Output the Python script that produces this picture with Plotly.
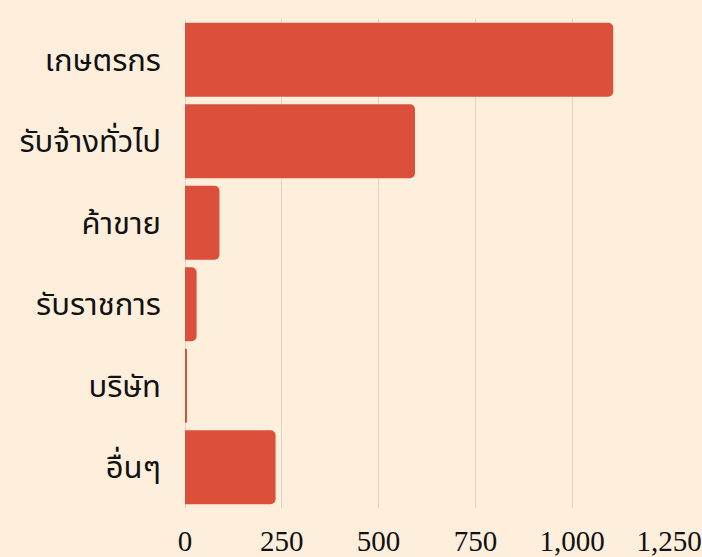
import plotly.graph_objects as go

categories = ["เกษตรกร", "รับจ้างทั่วไป", "ค้าขาย", "รับราชการ", "บริษัท", "อื่นๆ"]
values = [1106, 594, 89, 30, 4, 234]
tick_vals = [0, 250, 500, 750, 1000, 1250]
tick_text = ["0", "250", "500", "750", "1,000", "1,250"]

fig = go.Figure(go.Bar(
    x=values, y=categories, orientation="h",
    marker=dict(color="#DB503A", line=dict(width=0)),
    hoverinfo="skip",
))

thai_font = "Noto Sans Thai, Noto Sans Thai UI, Noto Sans, sans-serif"

fig.update_layout(
    width=702, height=557,
    margin=dict(l=185, r=33, t=19, b=49),
    paper_bgcolor="#FEEFDD", plot_bgcolor="#FEEFDD",
    bargap=0.09, barcornerradius=5,
    showlegend=False,
    font=dict(family=thai_font, color="#111111"),
)
fig.update_xaxes(
    range=[0, 1250], tickvals=tick_vals, ticktext=tick_text,
    showgrid=True, gridcolor="#DDD3C7", gridwidth=1,
    zeroline=True, zerolinecolor="#DDD3C7", zerolinewidth=1,
    showline=False, ticks="", automargin=False,
    tickfont=dict(family="Liberation Serif, serif", size=29, color="#111111"),
    ticklabelstandoff=13, ticklabeloverflow="allow",
)
fig.update_yaxes(
    autorange="reversed", showgrid=False, zeroline=False, showline=False, ticks="",
    automargin=False,
    tickfont=dict(family=thai_font, size=31, color="#111111"),
    ticklabelstandoff=23,
)

fig.write_html("out.html")
